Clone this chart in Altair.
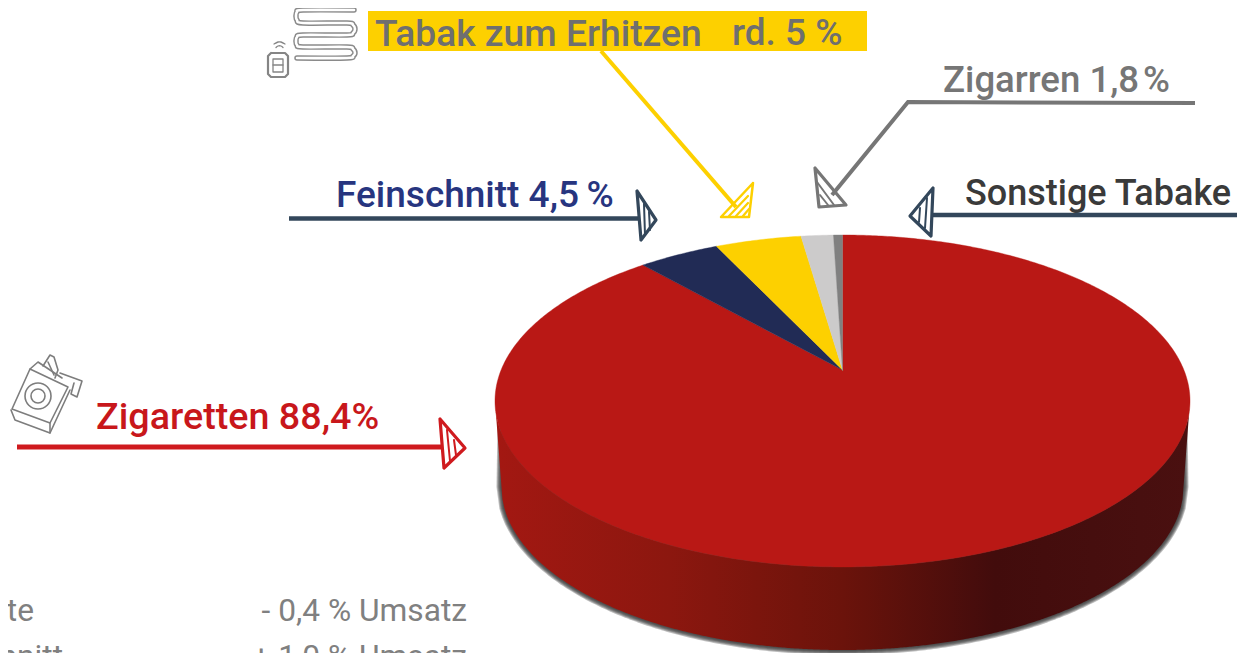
import altair as alt
import numpy as np
import pandas as pd

# --- data ---
categories = ["Zigaretten", "Feinschnitt", "Tabak zum Erhitzen", "Zigarren", "Sonstige Tabake"]
shares = [88.4, 4.5, 4.8, 1.8, 0.5]
slice_colors = ["#b91815", "#212b55", "#fdd000", "#cccbcb", "#808080"]

W, H = 1229, 645
X = alt.Scale(domain=[8, 8 + W], range=[0, W], nice=False, zero=False)
Y = alt.Scale(domain=[8 + H, 8], range=[H, 0], nice=False, zero=False)
FONT = "Roboto"

layers = []


def path(points, color=None, width=2.0, fill=None, interp="linear", cap="round", opacity=1.0, join="round"):
    df = pd.DataFrame(points, columns=["x", "y"])
    df["o"] = range(len(df))
    kw = dict(strokeCap=cap, strokeJoin=join, interpolate=interp, opacity=opacity, clip=False)
    if color is None:
        kw["strokeWidth"] = 0
        kw["stroke"] = "transparent"
    else:
        kw["stroke"] = color
        kw["strokeWidth"] = width
    if fill:
        kw["fill"] = fill
    layers.append(
        alt.Chart(df).mark_line(**kw).encode(
            x=alt.X("x:Q", scale=X, axis=None),
            y=alt.Y("y:Q", scale=Y, axis=None),
            order="o:Q",
        )
    )


def text(s, x, y, size, color, weight=500, align="left"):
    df = pd.DataFrame({"x": [x], "y": [y], "t": [s]})
    layers.append(
        alt.Chart(df).mark_text(
            font=FONT, fontSize=size, fontWeight=weight, color=color, align=align, baseline="alphabetic"
        ).encode(
            x=alt.X("x:Q", scale=X, axis=None),
            y=alt.Y("y:Q", scale=Y, axis=None),
            text="t:N",
        )
    )


# --- pie geometry: a circle seen in perspective ---
AX, AY = 842.5, 370.0
K, B, A = 0.1867, 160.2, 341.4


def project(theta):
    u, v = np.sin(theta), np.cos(theta)
    return AX + A * u / (1 + K * v), AY - B * v / (1 + K * v)


CX, RX, CY, RY = 842.5, 347.5, 401.0, 166.0
BOT_CY, BOT_RX, BOT_RY = 487.0, 341.0, 163.0


def wall_bottom(dx, grow=0.0):
    rx = BOT_RX + grow
    ry = BOT_RY + grow
    a = np.abs(dx)
    y = np.where(a < rx,
                 BOT_CY + ry * np.sqrt(np.clip(1 - (a / rx) ** 2, 0, 1)),
                 BOT_CY)
    return y


# drop shadow of the disc
for g in [1.0, 2.0, 3.0, 4.0, 5.0]:
    xs = np.linspace(CX - BOT_RX - g, CX + BOT_RX + g, 240)
    ys = wall_bottom(xs - CX, g)
    pts = [(CX - BOT_RX - g + 1, 420)] + list(zip(xs, ys)) + [(CX + BOT_RX + g - 1, 420)]
    path(pts, fill="#333333", opacity=0.32)

# side wall with horizontal gradient
xs = np.linspace(CX - RX + 0.5, CX + RX - 0.5, 400)
dx = xs - CX
top_edge = CY + RY * np.sqrt(1 - (dx / RX) ** 2)
bot = wall_bottom(dx)
outer = np.abs(dx) >= BOT_RX
bot = np.where(outer, CY + (BOT_CY - CY) * (RX - np.abs(dx)) / (RX - BOT_RX), bot)
wall = pd.DataFrame({"x": xs, "y": bot, "y2": top_edge})
grad = alt.Gradient(
    gradient="linear", x1=0, x2=1, y1=0, y2=0,
    stops=[
        alt.GradientStop(color="#a31812", offset=0.0),
        alt.GradientStop(color="#8c170f", offset=0.25),
        alt.GradientStop(color="#6b130b", offset=0.5),
        alt.GradientStop(color="#420c0c", offset=0.72),
        alt.GradientStop(color="#4a1010", offset=1.0),
    ],
)
layers.append(
    alt.Chart(wall).mark_area(fill=grad, opacity=1).encode(
        x=alt.X("x:Q", scale=X, axis=None),
        y=alt.Y("y:Q", scale=Y, axis=None),
        y2="y2:Q",
    )
)

# top face slices, clockwise from 12 o'clock
start = 0.0
total = sum(shares)
for name, share, col in zip(categories, shares, slice_colors):
    t0 = start / total * 2 * np.pi
    t1 = (start + share) / total * 2 * np.pi
    ts = np.linspace(t0, t1, max(3, int(share * 6)))
    px, py = project(ts)
    pts = [(AX, AY)] + list(zip(px, py)) + [(AX, AY)]
    path(pts, color=col, width=0.4, fill=col, join="miter")
    start += share

# --- Tabak zum Erhitzen ---
YEL = "#fdd000"
rect_df = pd.DataFrame({"x": [368], "x2": [867], "y": [11], "y2": [51]})
layers.append(
    alt.Chart(rect_df).mark_rect(color=YEL).encode(
        x=alt.X("x:Q", scale=X, axis=None), x2="x2:Q",
        y=alt.Y("y:Q", scale=Y, axis=None), y2="y2:Q",
    )
)
text("Tabak zum Erhitzen", 375, 46, 37.2, "#6f6f6f")
text("rd. 5 %", 732, 45, 37, "#6f6f6f")
path([(601, 51), (736, 207)], YEL, 4, cap="butt")
path([(753, 183), (749, 217), (721, 217), (753, 183)], YEL, 2.5)
for seg in [[(729, 216), (748, 196)], [(736, 216), (748, 203)], [(743, 216), (749, 209)]]:
    path(seg, YEL, 2.2)

# --- Feinschnitt ---
text("Feinschnitt 4,5\u2009%", 336, 207, 37, "#27357f")
NAVY = "#33475b"
path([(289, 218.5), (640, 218.5)], NAVY, 4.5, cap="butt")
path([(637, 191), (656, 220), (641, 240), (637, 191)], NAVY, 3.2)
for seg in [[(644, 204), (645, 235)], [(649, 212), (650, 230)]]:
    path(seg, NAVY, 2)

# --- Zigarren ---
GR = "#767676"
text("Zigarren 1,8\u200a%", 943, 92, 36.6, GR)
path([(1195, 103), (908, 102), (832, 195)], GR, 4, cap="butt", join="miter")
path([(815, 168), (846, 205), (819, 207), (815, 168)], GR, 3.2)
for seg in [[(817, 182), (834, 205)], [(820, 195), (828, 205)]]:
    path(seg, GR, 2)

# --- Sonstige Tabake ---
text("Sonstige Tabake", 965, 205, 36, "#3a3a3a")
path([(1240, 215), (933, 215)], NAVY, 4.5, cap="butt")
path([(933, 188), (910, 216), (931, 236), (933, 188)], NAVY, 3.2)
for seg in [[(927, 198), (925, 228)], [(920, 208), (919, 222)]]:
    path(seg, NAVY, 2)

# --- Zigaretten ---
RED = "#cf1a1e"
text("Zigaretten 88,4%", 96, 429, 37.7, "#c8171b")
path([(17, 447), (443, 447)], RED, 5, cap="butt")
path([(440, 419), (465, 448), (444, 468), (440, 419)], RED, 3.2)
for seg in [[(447, 430), (450, 461)], [(454, 440), (456, 455)]]:
    path(seg, RED, 2)

# --- growth table, bottom left ---
TXT = "#808080"
text("Zigarette", 34, 621, 31.7, TXT, 400, "right")
text("- 0,4 % Umsatz", 467, 621, 31.7, TXT, 400, "right")
text("Feinschnitt", 63, 667, 31.7, TXT, 400, "right")
text("+ 1,0 % Umsatz", 467, 667, 31.7, TXT, 400, "right")

# --- icon: heater ---
snake = [(354, 10), (303, 10), (297, 12), (296, 16), (297, 20), (303, 23), (347, 23), (353, 25), (355, 29),
         (353, 33), (347, 35), (303, 35), (297, 37), (296, 41), (297, 45), (303, 47), (347, 47), (353, 49),
         (355, 53), (353, 56), (347, 58), (297, 58)]
path(snake, "#8a8a8a", 5.5, interp="cardinal")
path(snake, "#ffffff", 2.6, interp="cardinal")
path([(271, 53), (285, 53), (288, 56), (288, 74), (285, 77), (271, 77), (268, 74), (268, 56), (271, 53)],
     "#858585", 2.2)
path([(273, 59), (283, 59), (283, 72), (273, 72), (273, 59)], "#858585", 1.3)
path([(273, 65), (283, 65)], "#858585", 1.3)
path([(276, 47.5), (278, 46), (281, 46), (283, 47.5)], "#858585", 1.3, interp="cardinal")
path([(274, 44), (278, 42), (281, 42), (285, 44)], "#858585", 1.3, interp="cardinal")

# --- icon: cigarette pack ---
PK = "#7d7d7d"
path([(30, 369), (68, 387), (50, 423), (12, 409), (30, 369)], PK, 1.6)
path([(11, 410), (15, 420), (50, 433), (70, 390)], PK, 1.6)
path([(50, 423), (50, 433)], PK, 1.6)
path([(30, 369), (38, 362), (62, 378)], PK, 1.6)
path([(43, 366), (50, 355), (54, 357), (58, 370), (55, 378)], PK, 1.6)
path([(48, 362), (54, 375)], PK, 1.6)
path([(60, 373), (82, 381), (77, 397), (71, 394), (74, 383)], PK, 1.6)
circ = pd.DataFrame({"x": [38, 38], "y": [396, 396], "s": [676, 196]})
layers.append(
    alt.Chart(circ).mark_point(shape="circle", filled=False, color=PK, strokeWidth=1.6, opacity=1).encode(
        x=alt.X("x:Q", scale=X, axis=None),
        y=alt.Y("y:Q", scale=Y, axis=None),
        size=alt.Size("s:Q", scale=None, legend=None),
    )
)

chart = alt.layer(*layers).properties(
    width=W, height=H,
    padding=0,
    autosize=alt.AutoSizeParams(type="none"),
).configure_view(stroke=None).resolve_scale(x="shared", y="shared")

chart.save("out.html", embed_options={"renderer": "svg", "actions": False})
